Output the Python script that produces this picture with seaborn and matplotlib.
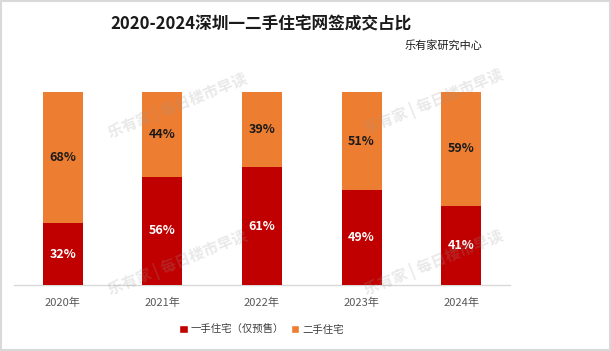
import pandas as pd
import numpy as np
import matplotlib.pyplot as plt
import seaborn as sns
from matplotlib.patches import Rectangle, Patch

sns.set_theme(style="white")
plt.rcParams['font.family'] = ['Noto Sans CJK SC', 'DejaVu Sans']
plt.rcParams['axes.unicode_minus'] = False

# 数据
years = ["2020年", "2021年", "2022年", "2023年", "2024年"]
new_home = [32, 56, 61, 49, 41]      # 一手住宅（仅预售）
second_home = [68, 44, 39, 51, 59]   # 二手住宅

red = "#C00000"
orange = "#ED7D31"

df = pd.DataFrame({"year": years, "new": new_home, "second": second_home})
df["total"] = df["new"] + df["second"]

fig = plt.figure(figsize=(6.11, 3.51), dpi=100)
ax = fig.add_axes([0.0229, 0.188, 0.8118, 0.55])

# 堆叠柱: 先画总和(橙), 再画一手(红)
sns.barplot(data=df, x="year", y="total", color=orange, width=0.4,
            saturation=1, linewidth=0, ax=ax, zorder=2)
sns.barplot(data=df, x="year", y="new", color=red, width=0.4,
            saturation=1, linewidth=0, ax=ax, zorder=3)

for i, (a, b) in enumerate(zip(new_home, second_home)):
    ax.text(i, a / 2, f"{a}%", ha="center", va="center", color="white",
            fontsize=9, fontweight="bold", zorder=5)
    ax.text(i, a + b / 2, f"{b}%", ha="center", va="center", color="#1a1a1a",
            fontsize=9, fontweight="bold", zorder=5)

ax.set_xlim(-0.49, 4.49)
ax.set_ylim(0, 100)
ax.set_xlabel("")
ax.set_ylabel("")
ax.set_yticks([])
ax.tick_params(axis="x", length=0, labelsize=8, labelcolor="#595959", pad=9)
for s in ["top", "left", "right"]:
    ax.spines[s].set_visible(False)
ax.spines["bottom"].set_color("#d9d9d9")
ax.spines["bottom"].set_linewidth(1)
ax.set_facecolor("none")

# 标题
fig.text(0.427, 0.929, "2020-2024深圳一二手住宅网签成交占比", ha="center", va="center",
         fontsize=12, fontweight="bold", color="#1a1a1a")
fig.text(0.79, 0.872, "乐有家研究中心", ha="right", va="center",
         fontsize=8, color="#1a1a1a")

# 图例
handles = [Patch(facecolor=red, label="一手住宅（仅预售）"),
           Patch(facecolor=orange, label="二手住宅")]
fig.legend(handles=handles, loc="center", bbox_to_anchor=(0.428, 0.06), ncol=2,
           frameon=False, fontsize=7.5, handlelength=0.8, handleheight=0.8,
           handletextpad=0.3, columnspacing=0.6, labelcolor="#404040")

# 水印
for (x, y) in [(0.29, 0.70), (0.29, 0.25), (0.71, 0.71), (0.71, 0.25)]:
    fig.text(x, y, "乐有家 | 每日楼市早读", ha="center", va="center", rotation=22,
             fontsize=11, fontweight="bold", color="#9a9a9a", alpha=0.22, zorder=10)

# 边框
fig.patches.append(Rectangle((0.002, 0.003), 0.996, 0.994, transform=fig.transFigure,
                             fill=False, edgecolor="#d9d9d9", linewidth=1.5))

plt.savefig("out.png", dpi=100)
